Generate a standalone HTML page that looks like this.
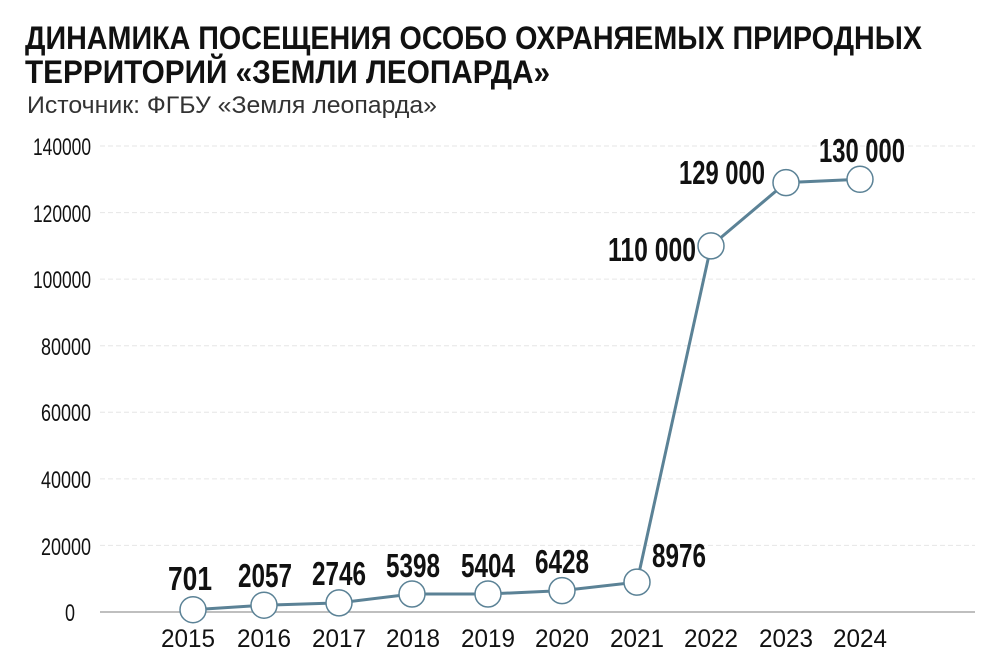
<!DOCTYPE html>
<html><head><meta charset="utf-8"><style>body{margin:0;background:#fff}svg{display:block}</style></head>
<body>
<svg width="1000" height="667" xmlns="http://www.w3.org/2000/svg" font-family="Liberation Sans, DejaVu Sans, sans-serif">
<text x="25" y="49" font-size="32" font-weight="bold" fill="#111" textLength="897" lengthAdjust="spacingAndGlyphs">ДИНАМИКА ПОСЕЩЕНИЯ ОСОБО ОХРАНЯЕМЫХ ПРИРОДНЫХ</text>
<text x="25" y="83" font-size="32" font-weight="bold" fill="#111" textLength="525" lengthAdjust="spacingAndGlyphs">ТЕРРИТОРИЙ «ЗЕМЛИ ЛЕОПАРДА»</text>
<text x="27" y="113" font-size="24" fill="#333" textLength="410" lengthAdjust="spacingAndGlyphs">Источник: ФГБУ «Земля леопарда»</text>
<g stroke="#e6e6e6" stroke-width="1" stroke-dasharray="5,3">
<line x1="100" x2="975" y1="146" y2="146"/><line x1="100" x2="975" y1="212.6" y2="212.6"/>
<line x1="100" x2="975" y1="279.1" y2="279.1"/><line x1="100" x2="975" y1="345.7" y2="345.7"/>
<line x1="100" x2="975" y1="412.3" y2="412.3"/><line x1="100" x2="975" y1="478.9" y2="478.9"/>
<line x1="100" x2="975" y1="545.4" y2="545.4"/>
</g>
<line x1="100" x2="975" y1="612" y2="612" stroke="#aaa" stroke-width="1.5"/>
<g font-size="24" fill="#111" text-anchor="end">
<text x="91" y="155" textLength="58" lengthAdjust="spacingAndGlyphs">140000</text>
<text x="91" y="222" textLength="58" lengthAdjust="spacingAndGlyphs">120000</text>
<text x="91" y="288" textLength="58" lengthAdjust="spacingAndGlyphs">100000</text>
<text x="91" y="355" textLength="50" lengthAdjust="spacingAndGlyphs">80000</text>
<text x="91" y="421" textLength="50" lengthAdjust="spacingAndGlyphs">60000</text>
<text x="91" y="488" textLength="50" lengthAdjust="spacingAndGlyphs">40000</text>
<text x="91" y="555" textLength="50" lengthAdjust="spacingAndGlyphs">20000</text>
<text x="75" y="621" textLength="10" lengthAdjust="spacingAndGlyphs">0</text>
</g>
<g font-size="25" fill="#111" text-anchor="middle">
<text x="188" y="647" textLength="54" lengthAdjust="spacingAndGlyphs">2015</text><text x="264" y="647" textLength="54" lengthAdjust="spacingAndGlyphs">2016</text><text x="339" y="647" textLength="54" lengthAdjust="spacingAndGlyphs">2017</text>
<text x="413" y="647" textLength="54" lengthAdjust="spacingAndGlyphs">2018</text><text x="488" y="647" textLength="54" lengthAdjust="spacingAndGlyphs">2019</text><text x="562" y="647" textLength="54" lengthAdjust="spacingAndGlyphs">2020</text>
<text x="637" y="647" textLength="54" lengthAdjust="spacingAndGlyphs">2021</text><text x="711" y="647" textLength="54" lengthAdjust="spacingAndGlyphs">2022</text><text x="786" y="647" textLength="54" lengthAdjust="spacingAndGlyphs">2023</text><text x="860" y="647" textLength="54" lengthAdjust="spacingAndGlyphs">2024</text>
</g>
<polyline fill="none" stroke="#5b8296" stroke-width="3" points="193,609.7 264,605.2 339,602.9 412,594 488,594 562,590.6 637,582.1 711,245.9 786,182.6 860,179.3"/>
<g fill="#fff" stroke="#5b8296" stroke-width="1.5">
<circle cx="193" cy="609.7" r="13"/><circle cx="264" cy="605.2" r="13"/><circle cx="339" cy="602.9" r="13"/>
<circle cx="412" cy="594" r="13"/><circle cx="488" cy="594" r="13"/><circle cx="562" cy="590.6" r="13"/>
<circle cx="637" cy="582.1" r="13"/><circle cx="711" cy="245.9" r="13"/><circle cx="786" cy="182.6" r="13"/><circle cx="860" cy="179.3" r="13"/>
</g>
<g font-size="33" font-weight="bold" fill="#111" text-anchor="middle">
<text x="190" y="590" textLength="44" lengthAdjust="spacingAndGlyphs">701</text>
<text x="265" y="587" textLength="54" lengthAdjust="spacingAndGlyphs">2057</text>
<text x="339" y="585" textLength="54" lengthAdjust="spacingAndGlyphs">2746</text>
<text x="413" y="577" textLength="54" lengthAdjust="spacingAndGlyphs">5398</text>
<text x="488" y="577" textLength="54" lengthAdjust="spacingAndGlyphs">5404</text>
<text x="562" y="573" textLength="54" lengthAdjust="spacingAndGlyphs">6428</text>
<text x="679" y="567" textLength="54" lengthAdjust="spacingAndGlyphs">8976</text>
<text x="652" y="261" textLength="88" lengthAdjust="spacingAndGlyphs">110 000</text>
<text x="722" y="184" textLength="86" lengthAdjust="spacingAndGlyphs">129 000</text>
<text x="862" y="162" textLength="86" lengthAdjust="spacingAndGlyphs">130 000</text>
</g>
</svg>
</body></html>
